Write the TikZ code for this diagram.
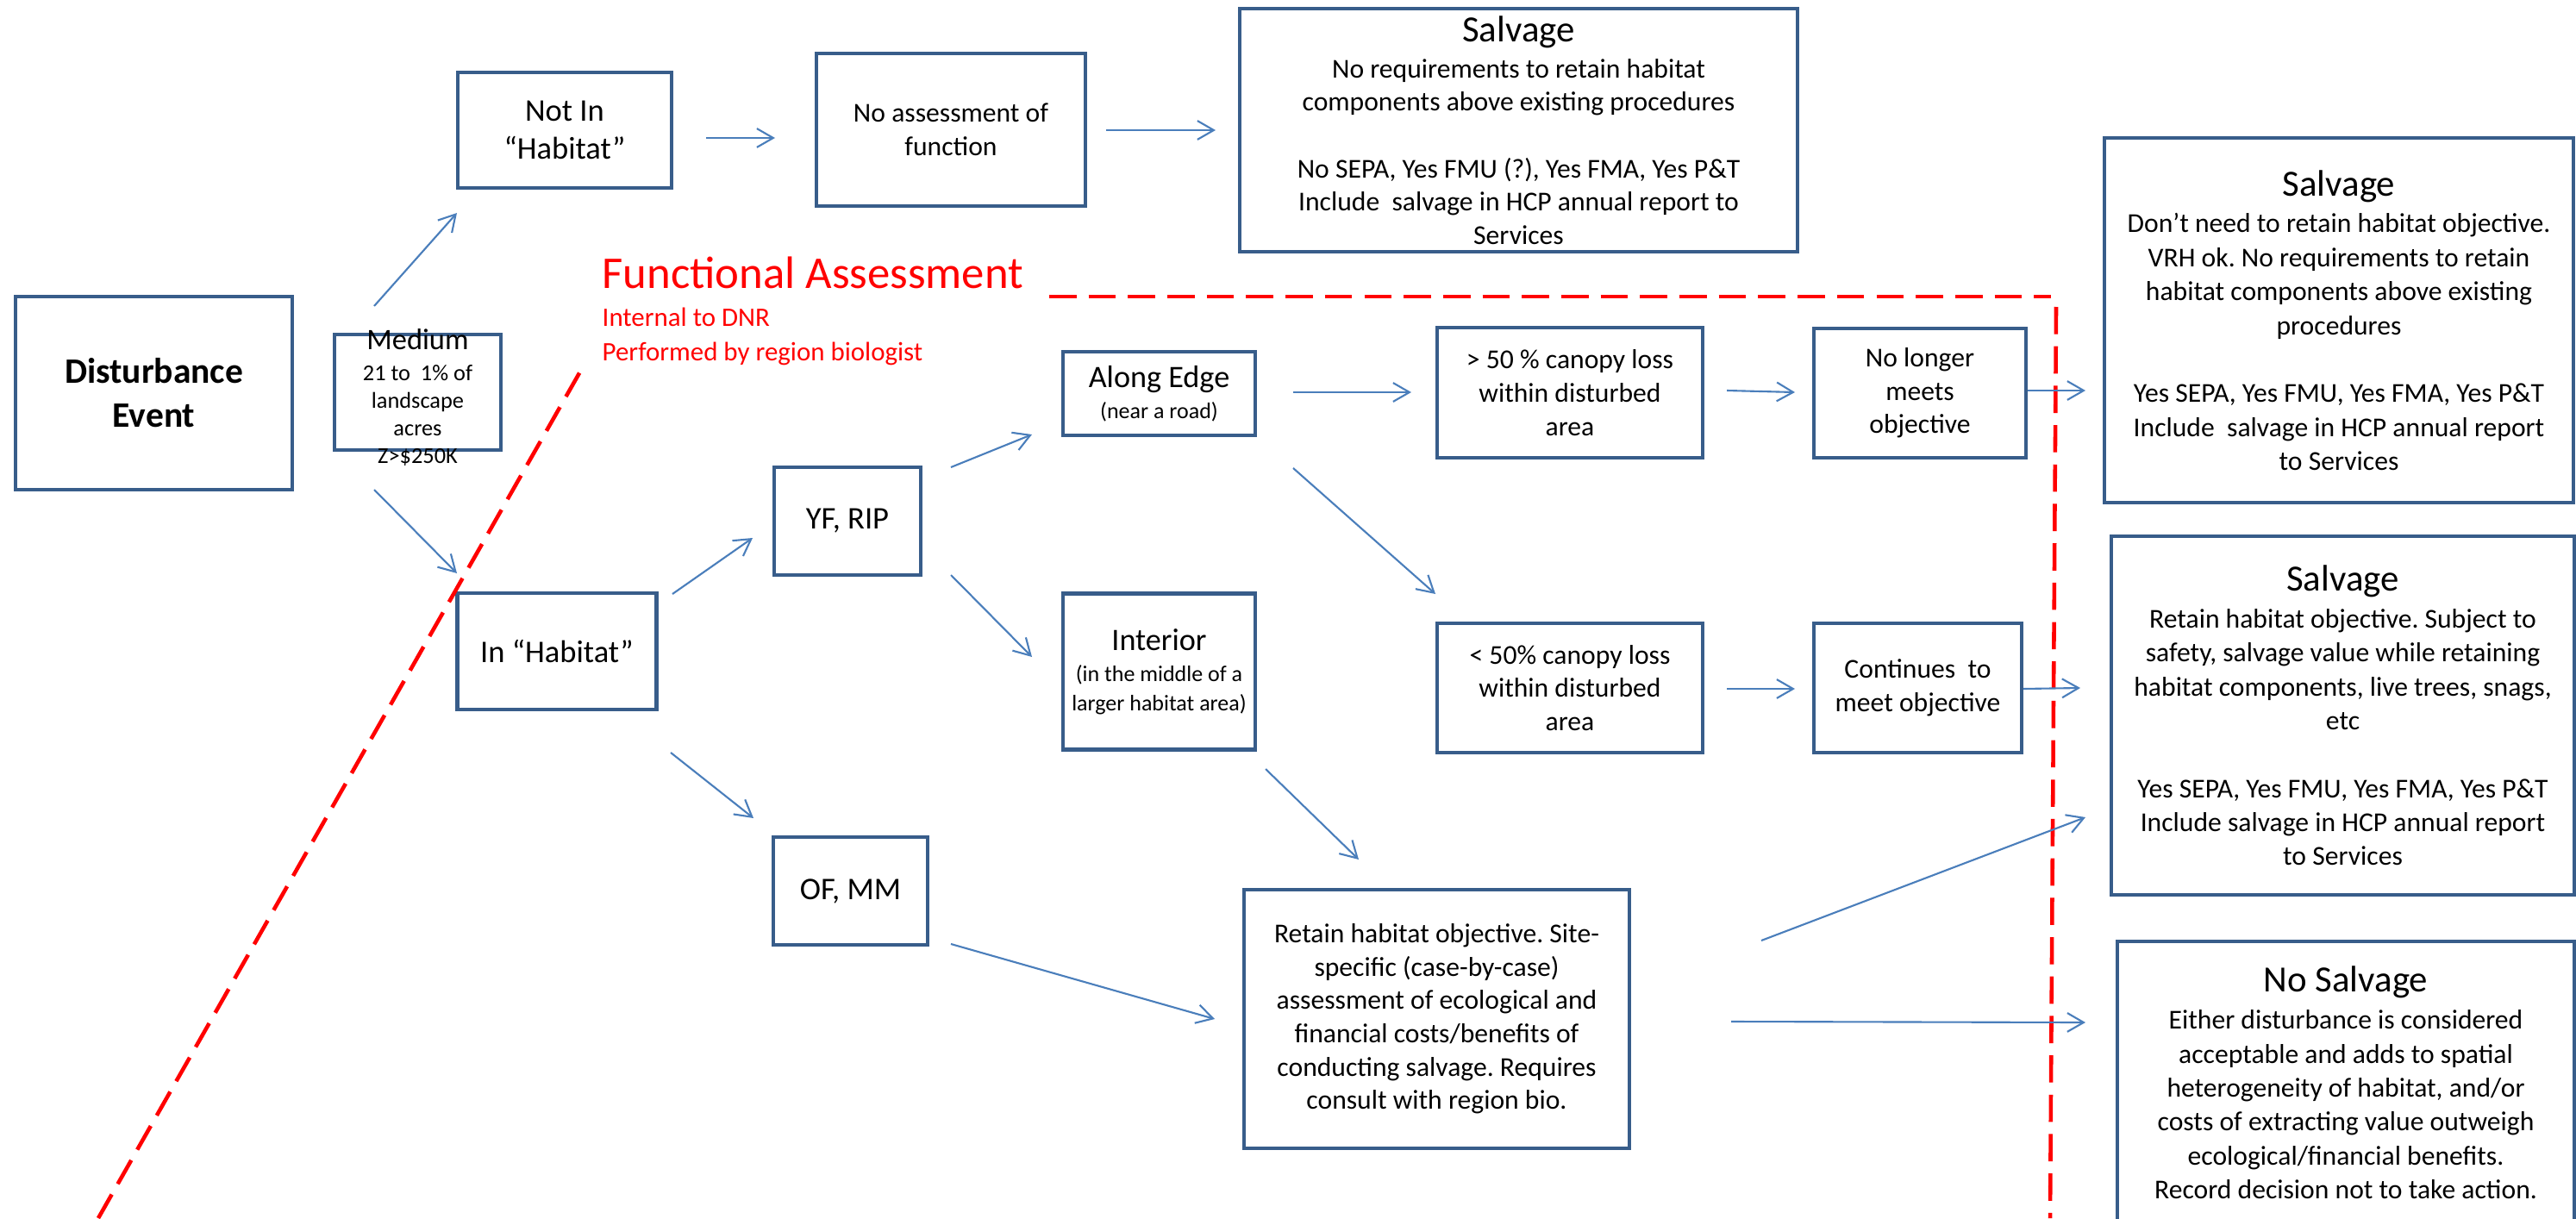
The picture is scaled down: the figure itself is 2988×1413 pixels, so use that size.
\documentclass[tikz,border=0pt]{standalone}
\usepackage{fontspec}
\setmainfont{Carlito}
\usetikzlibrary{arrows.meta}
\definecolor{boxblue}{RGB}{56,93,138}
\definecolor{arrblue}{RGB}{74,126,187}
\definecolor{dashred}{RGB}{255,0,0}
\frenchspacing
\begin{document}
\begin{tikzpicture}[x=0.1mm,y=-0.1mm,
  flowbox/.style={draw=boxblue, line width=1.25pt, inner sep=0pt, align=center,
    font=\fontsize{9}{11}\selectfont},
  bigtxt/.style={font=\fontsize{10.4}{12.6}\selectfont},
  sidebox/.style={flowbox, font=\fontsize{9}{11.2}\selectfont},
  arr/.style={draw=arrblue, line width=0.6pt, -{Straight Barb[length=5.4pt,width=6.2pt]}},
  fadash/.style={draw=dashred, line width=1.3pt, dash pattern=on 9pt off 4pt},
  redtxt/.style={text=dashred, inner sep=0pt, anchor=base west}]
\useasboundingbox (0,0) rectangle (2988,1413);
\fill[white] (0,0) rectangle (2988,1413);
\clip (0,0) rectangle (2988,1413);
\newcommand{\hd}[1]{{\fontsize{12.2}{14}\selectfont #1}}

% boxes
\node[flowbox, minimum width=32.1mm, minimum height=22.4mm,
  font=\fontsize{11.8}{14.5}\selectfont\bfseries] (dist) at (178.5,456) {Disturbance\\Event};
\node[flowbox, minimum width=19.3mm, minimum height=13.4mm] (med) at (484.5,455) {};
\node[align=center, inner sep=0pt, font=\fontsize{7.5}{9.1}\selectfont] (medtxt) at (484.5,461)
  {{\fontsize{9.8}{11}\selectfont Medium}\\[1pt]21 to\ \ 1\% of\\landscape\\acres\\Z>\$250K};
\node[flowbox, bigtxt, minimum width=24.8mm, minimum height=13.4mm] (notin) at (655,151) {Not In\\“Habitat”};
\node[flowbox, minimum width=31.2mm, minimum height=17.7mm] (noassess) at (1103,150.5) {No assessment of\\function};
\node[flowbox, minimum width=64.7mm, minimum height=28.2mm] (salv0) at (1761.5,151)
  {\hd{Salvage}\\[1pt]No requirements to retain habitat\\components above existing procedures\\ \\No SEPA, Yes FMU (?), Yes FMA, Yes P\&T\\Include\ \ salvage in HCP annual report to\\Services};

\node[flowbox, bigtxt, minimum width=23.1mm, minimum height=13.5mm] (inhab) at (646,755.5) {In “Habitat”};
\node[flowbox, bigtxt, minimum width=17mm, minimum height=12.5mm] (yfrip) at (983,604.5) {YF, RIP};
\node[flowbox, bigtxt, minimum width=17.9mm, minimum height=12.5mm] (ofmm) at (986.5,1033.5) {OF, MM};
\node[flowbox, minimum width=22.3mm, minimum height=9.7mm, font=\fontsize{7.4}{9.2}\selectfont] (along) at (1344.5,456.5)
  {{\fontsize{10.3}{12}\selectfont Along Edge}\\[1pt](near a road)};
\node[flowbox, minimum width=22.3mm, minimum height=18.1mm, font=\fontsize{7.4}{9.4}\selectfont] (interior) at (1344.5,779)
  {{\fontsize{10.3}{12}\selectfont Interior}\\[1pt](in the middle of a\\larger habitat area)};
\node[flowbox, minimum width=30.8mm, minimum height=15.1mm] (gt50) at (1821,455.5) {> 50 \% canopy loss\\within disturbed\\area};
\node[flowbox, minimum width=24.6mm, minimum height=15mm] (nolonger) at (2227,456) {No longer\\meets\\objective};
\node[flowbox, minimum width=30.8mm, minimum height=15mm] (lt50) at (1821,798) {< 50\% canopy loss\\within disturbed\\area};
\node[flowbox, minimum width=24.1mm, minimum height=15mm] (cont) at (2224.5,798) {Continues\ \ to\\meet objective};
\node[flowbox, minimum width=44.7mm, minimum height=30mm] (retain) at (1666.5,1182)
  {Retain habitat objective. Site-\\specific (case-by-case)\\assessment of ecological and\\financial costs/benefits of\\conducting salvage. Requires\\consult with region bio.};

\node[sidebox, minimum width=54.4mm, minimum height=42.3mm] (salv1) at (2713,371.5)
  {\hd{Salvage}\\[1pt]Don’t need to retain habitat objective.\\VRH ok. No requirements to retain\\habitat components above existing\\procedures\\ \\Yes SEPA, Yes FMU, Yes FMA, Yes P\&T\\Include\ \ salvage in HCP annual report\\to Services};
\node[sidebox, minimum width=53.7mm, minimum height=41.6mm] (salv2) at (2717.5,830)
  {\hd{Salvage}\\[1pt]Retain habitat objective. Subject to\\safety, salvage value while retaining\\habitat components, live trees, snags,\\etc\\ \\Yes SEPA, Yes FMU, Yes FMA, Yes P\&T\\Include salvage in HCP annual report\\to Services};
\node[sidebox, minimum width=53mm, minimum height=32.8mm] (nosalv) at (2721,1256)
  {\hd{No Salvage}\\[1pt]Either disturbance is considered\\acceptable and adds to spatial\\heterogeneity of habitat, and/or\\costs of extracting value outweigh\\ecological/financial benefits.\\Record decision not to take action.};

% functional assessment labels
\node[redtxt, font=\fontsize{15}{18}\selectfont] (fa) at (698,334) {Functional Assessment};
\node[redtxt, font=\fontsize{8.8}{10.5}\selectfont] (fa1) at (698,378) {Internal to DNR};
\node[redtxt, font=\fontsize{8.8}{10.5}\selectfont] (fa2) at (698,418) {Performed by region biologist};

% red dashed boundary
\coordinate (d1a) at (114,1413);
\coordinate (d1b) at (673,431);
\coordinate (d2a) at (1217,344);
\coordinate (d2b) at (2379,344);
\coordinate (d3a) at (2385,356);
\coordinate (d3b) at (2378,1413);
\draw[fadash] (d1a) -- (d1b);
\draw[fadash] (d2a) -- (d2b);
\draw[fadash] (d3a) -- (d3b);

% arrow end points
\coordinate (a1s) at (434,355);   \coordinate (a1e) at (530,247);
\coordinate (a2s) at (434,568);   \coordinate (a2e) at (530,665);
\coordinate (a3s) at (819,160);   \coordinate (a3e) at (899,160);
\coordinate (a4s) at (1283,151);  \coordinate (a4e) at (1410,151);
\coordinate (a5s) at (780,689);   \coordinate (a5e) at (873,624);
\coordinate (a6s) at (778,873);   \coordinate (a6e) at (874,949);
\coordinate (a7s) at (1103,542);  \coordinate (a7e) at (1197,504);
\coordinate (a8s) at (1103,667);  \coordinate (a8e) at (1197,762);
\coordinate (a9s) at (1500,455);  \coordinate (a9e) at (1637,455);
\coordinate (a10s) at (1500,543); \coordinate (a10e) at (1665,689);
\coordinate (a11s) at (2003,453); \coordinate (a11e) at (2082,455);
\coordinate (a12s) at (2352,453); \coordinate (a12e) at (2419,453);
\coordinate (a13s) at (2003,799); \coordinate (a13e) at (2082,799);
\coordinate (a14s) at (2347,799); \coordinate (a14e) at (2413,798);
\coordinate (a15s) at (1468,892); \coordinate (a15e) at (1576,997);
\coordinate (a16s) at (1103,1095);\coordinate (a16e) at (1409,1182);
\coordinate (a17s) at (2043,1091);\coordinate (a17e) at (2419,948);
\coordinate (a18s) at (2008,1185);\coordinate (a18e) at (2419,1186);
\foreach \i in {1,...,18} \draw[arr] (a\i s) -- (a\i e);
\end{tikzpicture}
\end{document}
